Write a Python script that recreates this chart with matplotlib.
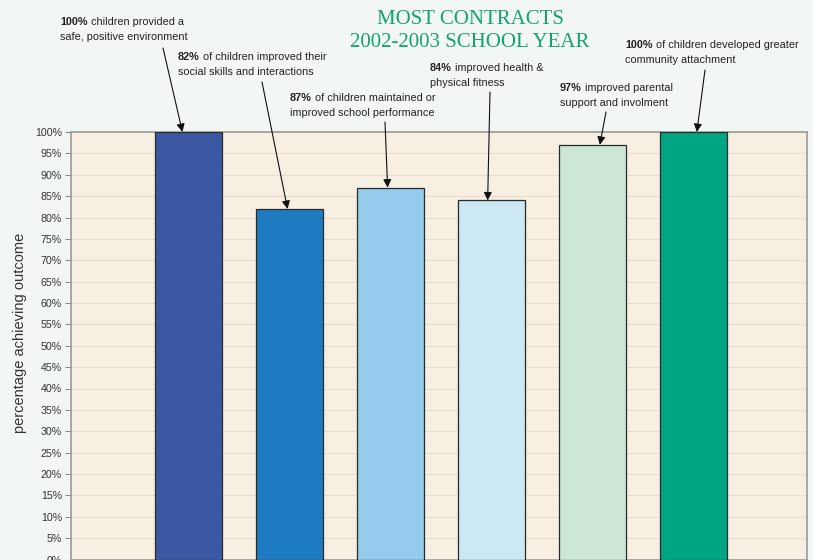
import matplotlib.pyplot as plt
from matplotlib.ticker import MultipleLocator, PercentFormatter

plt.rcParams['font.family'] = ['Liberation Sans', 'DejaVu Sans']

# data
outcomes = ['safe environment', 'social skills', 'school performance',
            'health & fitness', 'parental support', 'community attachment']
values = [100, 82, 87, 84, 97, 100]
bold_parts = ['100%', '82%', '87%', '84%', '97%', '100%']
first_lines = ['children provided a', 'of children improved their',
               'of children maintained or', 'improved health &',
               'improved parental', 'of children developed greater']
second_lines = ['safe, positive environment', 'social skills and interactions',
                'improved school performance', 'physical fitness',
                'support and involment', 'community attachment']
bar_colors = ['#3C58A3', '#1F7BC1', '#95CBED', '#CBE8F4', '#CCE8D5', '#00A583']

W, H = 813, 560
fig = plt.figure(figsize=(W / 100, H / 100), dpi=100, facecolor='#F2F7F4')
ax = fig.add_axes([71 / W, 0.5 / H, (807 - 71) / W, (559.5 - 132) / H])
ax.set_facecolor('#F7F0E2')

x = list(range(len(values)))
ax.bar(x, values, width=0.66, color=bar_colors, edgecolor='#2a2a2a',
       linewidth=0.9, zorder=3)

ax.set_xlim(-1.163, 6.12)
ax.set_ylim(0, 100)
ax.yaxis.set_major_locator(MultipleLocator(5))
ax.yaxis.set_major_formatter(PercentFormatter(decimals=0))
ax.grid(axis='y', color='#E5DCCB', linewidth=0.8, zorder=0)
ax.set_xticks([])
ax.tick_params(axis='y', length=4, width=0.8, color='#8a8a8a', pad=2.5,
               labelsize=7.7, labelcolor='#333333')
for s in ax.spines.values():
    s.set_color('#9a9a9a')
    s.set_linewidth(1.2)
ax.set_ylabel('percentage achieving outcome', fontsize=10.5, color='#333333')
ax.yaxis.set_label_coords(-0.06, 0.53)

fig.text(470 / W, 1 - 31 / H, 'MOST CONTRACTS\n2002-2003 SCHOOL YEAR',
         ha='center', va='center', family='Liberation Serif', fontsize=15,
         color='#14A36E', linespacing=1.3)


def px(xp, yp):
    return (xp / W, 1 - yp / H)


# annotation layout (pixels from top-left)
text_pos = [(60, 22), (178, 57), (290, 98), (430, 68), (560, 88), (625, 45)]
arrow_start = [(163, 48), (262, 82), (385, 122), (490, 92), (606, 112), (705, 70)]
tip_dx = [-0.06, -0.02, -0.03, -0.04, 0.07, 0.03]
fs = 7.8

for i in range(len(values)):
    tx, ty = text_pos[i]
    t1 = fig.text(*px(tx, ty), bold_parts[i], weight='bold', fontsize=fs,
                  color='#222222', ha='left', va='center')
    ax.annotate(first_lines[i], xy=(1, 0), xycoords=t1, xytext=(2.2, 0),
                textcoords='offset points', ha='left', va='bottom',
                fontsize=fs, color='#222222')
    fig.text(*px(tx, ty + 15), second_lines[i], fontsize=fs,
             color='#222222', ha='left', va='center')
    ax.annotate('', xy=(i + tip_dx[i], values[i]), xycoords='data',
                xytext=px(*arrow_start[i]), textcoords='figure fraction',
                arrowprops=dict(arrowstyle='-|>', color='#111111', lw=0.8,
                                mutation_scale=12, shrinkA=0, shrinkB=0),
                annotation_clip=False, zorder=5)

fig.savefig('out.png', dpi=100, facecolor=fig.get_facecolor())
